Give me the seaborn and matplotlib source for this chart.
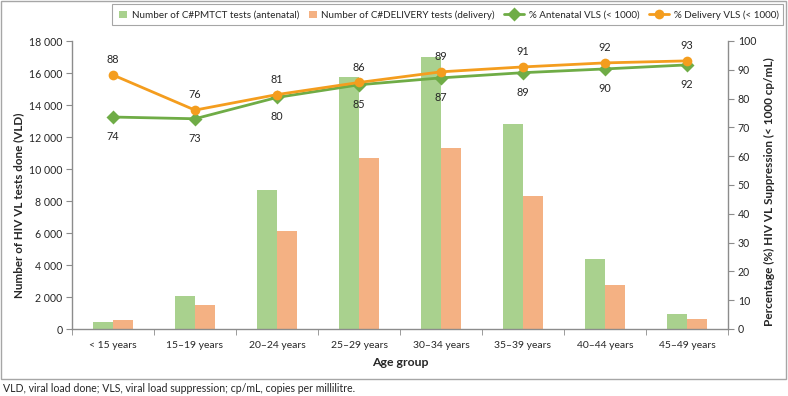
import matplotlib
matplotlib.use("Agg")
import matplotlib.pyplot as plt
import matplotlib.patches as mpatches
from matplotlib.ticker import FuncFormatter, FixedLocator, MultipleLocator
import seaborn as sns
import pandas as pd

age_groups = ["< 15 years", "15\u201319 years", "20\u201324 years", "25\u201329 years",
              "30\u201334 years", "35\u201339 years", "40\u201344 years", "45\u201349 years"]
antenatal_tests = [430, 2070, 8700, 15720, 17000, 12800, 4360, 920]
delivery_tests = [560, 1480, 6120, 10680, 11300, 8300, 2760, 600]
antenatal_vls = [73.6, 73.0, 80.4, 84.8, 87.2, 89.0, 90.3, 91.7]
delivery_vls = [88.2, 76.0, 81.4, 85.6, 89.3, 91.0, 92.4, 93.1]

bar_names = ["Number of C#PMTCT tests (antenatal)", "Number of C#DELIVERY tests (delivery)"]
line_names = ["% Antenatal VLS (< 1000)", "% Delivery VLS (< 1000)"]

bars = pd.DataFrame({
    "age": age_groups * 2,
    "count": antenatal_tests + delivery_tests,
    "series": [bar_names[0]] * 8 + [bar_names[1]] * 8,
})
lines = pd.DataFrame({
    "age": age_groups * 2,
    "pct": antenatal_vls + delivery_vls,
    "series": [line_names[0]] * 8 + [line_names[1]] * 8,
})

sns.set_style("white")
plt.rcParams["font.family"] = ["Lato", "DejaVu Sans"]
txt = "#262626"
spine_c = "#8c8c8c"

W, H = 788, 396
fig = plt.figure(figsize=(W / 100, H / 100), dpi=100)
ax = fig.add_axes([72 / W, 1 - 329 / H, 656 / W, 288 / H])

sns.barplot(data=bars, x="age", y="count", hue="series", order=age_groups,
            palette=["#A9D18E", "#F4B183"], width=0.48, ax=ax, saturation=1,
            edgecolor="none")
ax.set_ylim(0, 18000)
ax.set_xlim(-0.5, 7.5)
ax.yaxis.set_major_locator(MultipleLocator(2000))
ax.yaxis.set_major_formatter(FuncFormatter(lambda v, p: f"{int(v):,}".replace(",", " ")))
ax.set_xlabel("Age group", fontsize=8.8, fontweight="bold", color=txt)
ax.xaxis.set_label_coords(0.5, (329 - 357) / 288)
ax.set_ylabel("Number of HIV VL tests done (VLD)", fontsize=8.4, fontweight="bold", color=txt)
ax.yaxis.set_label_coords((24 - 72) / 656, (329 - 205) / 288)

ax2 = ax.twinx()
sns.lineplot(data=lines, x="age", y="pct", hue="series", style="series",
             palette=["#6FAC46", "#F49D1E"], markers=["D", "o"], dashes=False,
             markersize=7, linewidth=2, ax=ax2, markeredgecolor="none", sort=False)
ax2.set_ylim(0, 100)
ax2.set_xlim(-0.5, 7.5)
ax2.yaxis.set_major_locator(MultipleLocator(10))
ax2.set_ylabel("Percentage (%) HIV VL Suppression (< 1000 cp/mL)", fontsize=8.5,
               fontweight="bold", color=txt)
ax2.yaxis.set_label_coords((764 - 72) / 656, (329 - 192) / 288)

for i, (a, d) in enumerate(zip(antenatal_vls, delivery_vls)):
    ax2.annotate(f"{a:.0f}", (i, a), xytext=(0, -10), textcoords="offset points",
                 ha="center", va="top", fontsize=7.8, color=txt)
    ax2.annotate(f"{d:.0f}", (i, d), xytext=(0, 7), textcoords="offset points",
                 ha="center", va="bottom", fontsize=7.8, color=txt)

for a in (ax, ax2):
    a.spines["top"].set_visible(False)
    for s in ["left", "right", "bottom"]:
        a.spines[s].set_color(spine_c)
        a.spines[s].set_linewidth(1)
ax.spines["right"].set_visible(False)
ax2.spines["left"].set_visible(False)
ax2.spines["bottom"].set_visible(False)

ax.tick_params(axis="y", which="major", direction="out", length=4, color=spine_c,
               labelsize=7.6, labelcolor=txt, left=True, pad=3)
ax2.tick_params(axis="y", which="major", direction="out", length=4, color=spine_c,
                labelsize=7.6, labelcolor=txt, right=True, pad=3)
ax.tick_params(axis="x", which="major", length=0, labelsize=7.5, labelcolor=txt, pad=9)
ax.xaxis.set_minor_locator(FixedLocator([i - 0.5 for i in range(9)]))
ax.tick_params(axis="x", which="minor", direction="out", length=4, color=spine_c, bottom=True)
ax2.tick_params(axis="x", which="both", bottom=False, labelbottom=False)
ax2.set_xlabel("")

h1, l1 = ax.get_legend_handles_labels()
h2, l2 = ax2.get_legend_handles_labels()
ax.get_legend().remove()
ax2.get_legend().remove()

leg_fs = 7.1
em_px = leg_fs * 100 / 72
col_px = 9
common = dict(fontsize=leg_fs, frameon=False, borderpad=0, borderaxespad=0,
              labelcolor=txt, ncol=2, columnspacing=col_px / em_px)
leg_lines = fig.legend(h2, l2, loc="center right", bbox_to_anchor=(779 / W, 1 - 15 / H),
                       handlelength=2.0, handletextpad=0.55, **common)
fig.canvas.draw()
r = fig.canvas.get_renderer()
bb = leg_lines.get_window_extent(r)
leg_bars = fig.legend(h1, l1, loc="center right",
                      bbox_to_anchor=((bb.x0 - col_px) / W, 1 - 15 / H),
                      handlelength=0.8, handleheight=0.8, handletextpad=0.5, **common)
fig.canvas.draw()
bb2 = leg_bars.get_window_extent(r)
x0 = bb2.x0 - 7
x1 = 783
fig.patches.append(mpatches.Rectangle((x0 / W, 1 - 25 / H), (x1 - x0) / W, 21 / H,
                                      transform=fig.transFigure, fill=False,
                                      edgecolor="#a6a6a6", linewidth=0.8))

fig.patches.append(mpatches.Rectangle((1 / W, 1 - 379 / H), 785 / W, 378 / H,
                                      transform=fig.transFigure, fill=False,
                                      edgecolor="#a6a6a6", linewidth=1))
fig.text(3 / W, 1 - 389 / H,
         "VLD, viral load done; VLS, viral load suppression; cp/mL, copies per millilitre.",
         fontsize=7.6, color=txt, va="center", ha="left")

fig.savefig("out.png", dpi=100)
